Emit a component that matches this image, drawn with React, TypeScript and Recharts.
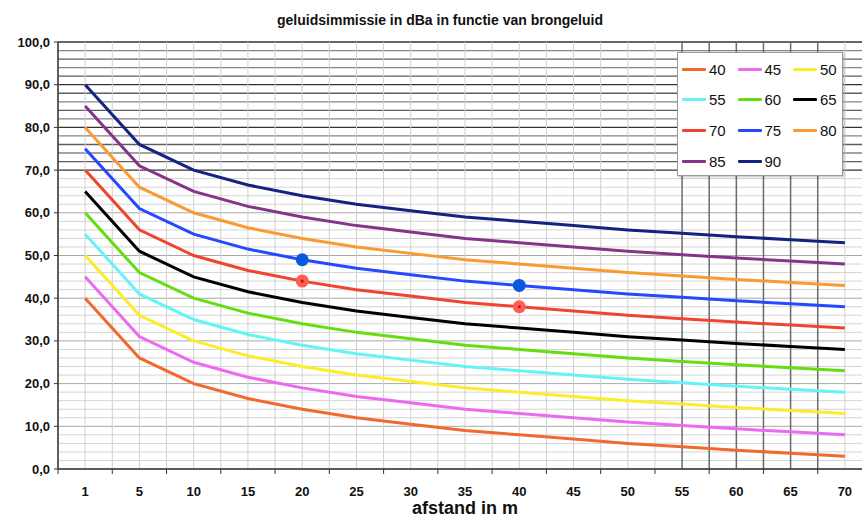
import React from 'react';
import { LineChart, Line, XAxis, YAxis, CartesianGrid } from 'recharts';

const distances = ['1', '5', '10', '15', '20', '25', '30', '35', '40', '45', '50', '55', '60', '65', '70'];

const s40 = [40, 26, 20, 16.5, 14, 12, 10.5, 9, 8, 7, 6, 5.2, 4.4, 3.7, 3];
const s45 = [45, 31, 25, 21.5, 19, 17, 15.5, 14, 13, 12, 11, 10.2, 9.4, 8.7, 8];
const s50 = [50, 36, 30, 26.5, 24, 22, 20.5, 19, 18, 17, 16, 15.2, 14.4, 13.7, 13];
const s55 = [55, 41, 35, 31.5, 29, 27, 25.5, 24, 23, 22, 21, 20.2, 19.4, 18.7, 18];
const s60 = [60, 46, 40, 36.5, 34, 32, 30.5, 29, 28, 27, 26, 25.2, 24.4, 23.7, 23];
const s65 = [65, 51, 45, 41.5, 39, 37, 35.5, 34, 33, 32, 31, 30.2, 29.4, 28.7, 28];
const s70 = [70, 56, 50, 46.5, 44, 42, 40.5, 39, 38, 37, 36, 35.2, 34.4, 33.7, 33];
const s75 = [75, 61, 55, 51.5, 49, 47, 45.5, 44, 43, 42, 41, 40.2, 39.4, 38.7, 38];
const s80 = [80, 66, 60, 56.5, 54, 52, 50.5, 49, 48, 47, 46, 45.2, 44.4, 43.7, 43];
const s85 = [85, 71, 65, 61.5, 59, 57, 55.5, 54, 53, 52, 51, 50.2, 49.4, 48.7, 48];
const s90 = [90, 76, 70, 66.5, 64, 62, 60.5, 59, 58, 57, 56, 55.2, 54.4, 53.7, 53];

const blueMarks = [null, null, null, null, 49, null, null, null, 43, null, null, null, null, null, null];
const redMarks = [null, null, null, null, 44, null, null, null, 38, null, null, null, null, null, null];

const seriesNames = ['40', '45', '50', '55', '60', '65', '70', '75', '80', '85', '90'];
const seriesValues = [s40, s45, s50, s55, s60, s65, s70, s75, s80, s85, s90];
const seriesColors = ['#f2692e', '#ec6af0', '#fcec2a', '#62f4f6', '#66dd12', '#000000', '#f0442f', '#2648ff', '#f89b32', '#86338a', '#13237f'];

const yTicks = [0, 2, 4, 6, 8, 10, 12, 14, 16, 18, 20, 22, 24, 26, 28, 30, 32, 34, 36, 38, 40, 42, 44, 46, 48, 50, 52, 54, 56, 58, 60, 62, 64, 66, 68, 70, 72, 74, 76, 78, 80, 82, 84, 86, 88, 90, 92, 94, 96, 98, 100];

const title = 'geluidsimmissie in dBa in functie van brongeluid';
const xTitle = 'afstand in m';

const CW = 880;
const CH = 517;
const XH = 48;
const M = { top: 42, right: 8, bottom: 0, left: 0 };
const YW = 58;
const PLOT_TOP = M.top;
const PLOT_BOTTOM = CH - M.bottom - XH;
const PLOT_LEFT = M.left + YW;
const PLOT_W = CW - M.right - PLOT_LEFT;
const HALF_BAND = PLOT_W / distances.length / 2;
const FONT = '"Liberation Sans", Arial, Helvetica, sans-serif';

const data = distances.map((d, i) => {
  const row: any = { d, blue: blueMarks[i], red: redMarks[i] };
  seriesNames.forEach((n, k) => {
    row['s' + n] = seriesValues[k][i];
  });
  return row;
});

const XTick = (p: any) => {
  const { x, y, payload, index } = p;
  const off = HALF_BAND;
  return (
    <g>
      <line x1={x - off} x2={x - off} y1={y} y2={y + 5} stroke="#333" strokeWidth={1} />
      {index === distances.length - 1 && (
        <line x1={x + off} x2={x + off} y1={y} y2={y + 5} stroke="#333" strokeWidth={1} />
      )}
      <text x={x} y={y + 27} textAnchor="middle" fontWeight="bold" fontSize={13} fill="#111" fontFamily={FONT}>
        {payload.value}
      </text>
    </g>
  );
};

const YTick = (p: any) => {
  const { x, y, payload } = p;
  const v = Number(payload.value);
  if (v % 10 !== 0) return <g />;
  return (
    <g>
      <line x1={x - 4} x2={x} y1={y} y2={y} stroke="#333" strokeWidth={1} />
      <text x={x - 8} y={y + 4.5} textAnchor="end" fontWeight="bold" fontSize={13} fill="#111" fontFamily={FONT}>
        {v.toFixed(1).replace('.', ',')}
      </text>
    </g>
  );
};

const HLine = (p: any) => {
  const { x1, x2, y1, y2 } = p;
  const v = Math.round(((PLOT_BOTTOM - y1) / (PLOT_BOTTOM - PLOT_TOP)) * 100);
  let stroke = '#d4d4d4';
  if (v >= 70) stroke = v % 10 === 0 ? '#333' : (v % 4 === 0 ? '#5e5e5e' : '#858585');
  else if (v % 10 === 0) stroke = '#a8a8a8';
  return <line x1={x1} x2={x2} y1={y1} y2={y2} stroke={stroke} strokeWidth={v >= 70 ? 1.3 : 1} />;
};

const VLine = (p: any) => {
  const { x1, x2, y1, y2 } = p;
  const i = Math.round(((x1 - PLOT_LEFT) / PLOT_W) * 30);
  const dark = i >= 23 && i <= 28;
  return <line x1={x1} x2={x2} y1={y1} y2={y2} stroke={dark ? '#6a6a6a' : '#d0d0d0'} strokeWidth={dark ? 1.5 : 1} />;
};

const RedDot = (p: any) => {
  const { cx, cy, value, index } = p;
  if (value == null || cy == null) return <g key={'r' + index} />;
  return (
    <g key={'r' + index}>
      <circle cx={cx} cy={cy} r={6.5} fill="#ff5d4f" />
      <circle cx={cx} cy={cy} r={1.6} fill="#c8101a" />
    </g>
  );
};

const BlueDot = (p: any) => {
  const { cx, cy, value, index } = p;
  if (value == null || cy == null) return <g key={'b' + index} />;
  return <circle key={'b' + index} cx={cx} cy={cy} r={6.5} fill="#0a56dc" />;
};

export default function App() {
  return (
    <div style={{ position: 'fixed', left: 0, top: 0, width: 862, height: 517, overflow: 'hidden', background: '#fff', fontFamily: FONT }}>
      <div style={{ position: 'absolute', left: 0, top: 12, width: CW, textAlign: 'center', fontWeight: 'bold', fontSize: 14, color: '#111' }}>
        {title}
      </div>
      <LineChart width={CW} height={CH} data={data} margin={M}>
        <CartesianGrid
          horizontal={HLine}
          vertical={VLine}
          verticalCoordinatesGenerator={({ offset }: any) =>
            Array.from({ length: 31 }, (_, i) => offset.left + (offset.width * i) / 30)
          }
        />
        <XAxis
          dataKey="d"
          interval={0}
          tickLine={false}
          tickSize={0}
          tickMargin={0}
          tick={<XTick />}
          height={XH}
          padding={{ left: HALF_BAND, right: HALF_BAND }}
          axisLine={{ stroke: '#333', strokeWidth: 1.5 }}
        />
        <YAxis
          domain={[0, 100]}
          ticks={yTicks}
          interval={0}
          width={YW}
          tickLine={false}
          tickSize={0}
          tickMargin={0}
          tick={<YTick />}
          axisLine={{ stroke: '#333', strokeWidth: 1.5 }}
        />
        {seriesNames.map((n, k) => (
          <Line
            key={n}
            dataKey={'s' + n}
            stroke={seriesColors[k]}
            strokeWidth={3}
            dot={false}
            activeDot={false}
            isAnimationActive={false}
            type="linear"
          />
        ))}
        <Line dataKey="red" stroke="none" dot={RedDot} activeDot={false} isAnimationActive={false} legendType="none" />
        <Line dataKey="blue" stroke="none" dot={BlueDot} activeDot={false} isAnimationActive={false} legendType="none" />
      </LineChart>
      <div style={{ position: 'absolute', left: 0, top: 500, width: 930, textAlign: 'center', fontWeight: 'bold', fontSize: 18, lineHeight: '17px', color: '#111' }}>
        {xTitle}
      </div>
      <div
        style={{
          position: 'absolute',
          left: 677,
          top: 52,
          width: 164,
          height: 122,
          background: '#fff',
          border: '1px solid #999',
          boxShadow: '1px 1px 2px rgba(0,0,0,0.25)',
        }}
      >
        {seriesNames.map((n, k) => {
          const col = k % 3;
          const row = Math.floor(k / 3);
          return (
            <div
              key={n}
              style={{ position: 'absolute', left: 4 + col * 55.5, top: 16 + row * 30.7 - 10, height: 20, display: 'flex', alignItems: 'center' }}
            >
              <div style={{ width: 24, height: 3, background: seriesColors[k], borderRadius: 1 }} />
              <span style={{ marginLeft: 3, fontSize: 15, color: '#111' }}>{n}</span>
            </div>
          );
        })}
      </div>
    </div>
  );
}
